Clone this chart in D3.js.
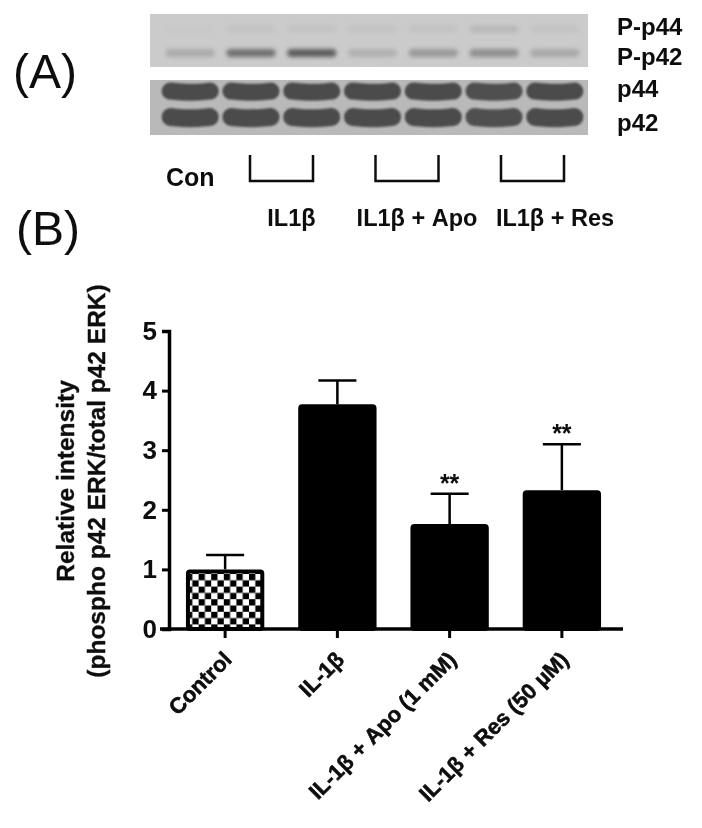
<!DOCTYPE html>
<html>
<head>
<meta charset="utf-8">
<script src="https://cdn.jsdelivr.net/npm/d3@7"></script>
<style>
  html, body { margin: 0; padding: 0; background: #fff; }
  svg { display: block; }
  text { font-family: "Liberation Sans", Arial, sans-serif; fill: #111; }
  .heavy { font-weight: bold; }
</style>
</head>
<body>
<div id="viz"></div>
<script>
// bar chart values
const categories = ['Control', 'IL-1β', 'IL-1β + Apo (1 mM)', 'IL-1β + Res (50 µM)'];
const means = [1.0, 3.77, 1.76, 2.33];
const errTop = [1.24, 4.17, 2.27, 3.1];
const stars = ['', '', '**', '**'];
const yTicks = [0, 1, 2, 3, 4, 5];

// blot lanes, panel A (band darkness 0-1, estimated)
const lanes = ['l1', 'l2', 'l3', 'l4', 'l5', 'l6', 'l7'];
const pp44 = [0.01, 0.05, 0.04, 0.05, 0.05, 0.12, 0.05];
const pp42 = [0.2, 0.6, 0.72, 0.16, 0.32, 0.38, 0.22];
const p44 = [1, 1, 1, 1, 1, 0.96, 1];
const p42 = [1, 1, 1, 1, 1, 0.96, 1];
const blotRowsTop = ['P-p44', 'P-p42'];
const blotRowsBottom = ['p44', 'p42'];
const groupLabels = ['IL1β', 'IL1β + Apo', 'IL1β + Res'];
const groupCenters = [291.5, 417, 555];

const svg = d3.select('#viz').append('svg')
  .attr('width', 702)
  .attr('height', 828)

const defs = svg.append('defs')

// filter region in page pixels, thin bands would get clipped otherwise
const blur = (id, sd) => defs.append('filter').attr('id', id)
  .attr('filterUnits', 'userSpaceOnUse')
  .attr('x', 0).attr('y', 0).attr('width', 702).attr('height', 828)
  .append('feGaussianBlur').attr('stdDeviation', sd)
blur('soft', 0.5)
blur('band', 1.0)
blur('faint', 2.0)

// mottled film background for the top blot
const mottle = defs.append('filter').attr('id', 'mottle')
mottle.append('feTurbulence').attr('type', 'fractalNoise').attr('baseFrequency', 0.035).attr('numOctaves', 2).attr('seed', 4)
mottle.append('feColorMatrix').attr('type', 'matrix')
  .attr('values', '0 0 0 0 0.6  0 0 0 0 0.6  0 0 0 0 0.6  0.7 0 0 0 -0.2')
mottle.append('feComposite').attr('in2', 'SourceGraphic').attr('operator', 'in')

const checks = defs.append('pattern').attr('id', 'checks')
  .attr('patternUnits', 'userSpaceOnUse')
  .attr('width', 12.6).attr('height', 12.6)
  .attr('x', 186).attr('y', 574)
checks.append('rect').attr('width', 12.6).attr('height', 12.6).attr('fill', '#fff')
checks.append('rect').attr('width', 6.3).attr('height', 6.3).attr('fill', '#000')
checks.append('rect').attr('x', 6.3).attr('y', 6.3).attr('width', 6.3).attr('height', 6.3).attr('fill', '#000')

// ---------- panel A
const panelA = svg.append('g').attr('filter', 'url(#soft)')

panelA.append('text').attr('x', 13).attr('y', 88).style('font-size', '48px').text('(A)')

const xLane = d3.scaleBand().domain(lanes).range([158, 587]).padding(0.06)

const yTop = d3.scalePoint().domain(blotRowsTop).range([29, 53])
const yBottom = d3.scalePoint().domain(blotRowsBottom).range([92, 118])
const yLabelTop = d3.scalePoint().domain(blotRowsTop).range([35, 65])
const yLabelBottom = d3.scalePoint().domain(blotRowsBottom).range([97, 131])

panelA.append('rect').attr('x', 150).attr('y', 14).attr('width', 438).attr('height', 53).attr('fill', '#cbcbcb')
panelA.append('rect').attr('x', 150).attr('y', 14).attr('width', 438).attr('height', 53).attr('fill', '#fff').attr('filter', 'url(#mottle)')
panelA.append('rect').attr('x', 150).attr('y', 80).attr('width', 438).attr('height', 55).attr('fill', '#b9b9b9')

const darkness = d3.scaleLinear().domain([0, 1]).range(['#c9c9c9', '#333'])

const drawFaint = (values, row, h, blurId) => {
  panelA.append('g').selectAll('rect').data(values).join('rect')
    .attr('x', (d, i) => xLane(lanes[i]) + 4)
    .attr('y', yTop(row) - h / 2)
    .attr('width', xLane.bandwidth() - 8)
    .attr('height', h)
    .attr('rx', h / 2)
    .attr('fill', d => darkness(d))
    .attr('filter', blurId)
}
drawFaint(pp44, 'P-p44', 7, 'url(#faint)')
drawFaint(pp42, 'P-p42', 8, 'url(#faint)')

// thick rounded strokes with a slight sag, like the film bands
const bandLine = d3.line().curve(d3.curveBasis)
const drawBands = (values, row, thick) => {
  panelA.append('g').selectAll('path').data(values).join('path')
    .attr('d', (d, i) => {
      const x0 = xLane(lanes[i]) + thick / 2
      const x1 = xLane(lanes[i]) + xLane.bandwidth() - thick / 2
      const y = yBottom(row)
      return bandLine([[x0, y - 1], [x0, y - 1], [(x0 + x1) / 2, y + 1], [x1, y - 1], [x1, y - 1]])
    })
    .attr('fill', 'none')
    .attr('stroke', d => d3.interpolateRgb('#b9b9b9', '#4c4c4c')(d))
    .attr('stroke-width', thick)
    .attr('stroke-linecap', 'round')
    .attr('filter', 'url(#band)')
}
drawBands(p44, 'p44', 17)
drawBands(p42, 'p42', 18)

const rowLabelX = 617
panelA.append('g').selectAll('text').data(blotRowsTop).join('text')
  .attr('class', 'heavy')
  .attr('x', rowLabelX)
  .attr('y', d => yLabelTop(d))
  .style('font-size', '24px')
  .text(d => d)
panelA.append('g').selectAll('text').data(blotRowsBottom).join('text')
  .attr('class', 'heavy')
  .attr('x', rowLabelX)
  .attr('y', d => yLabelBottom(d))
  .style('font-size', '24px')
  .text(d => d)

panelA.append('text').attr('class', 'heavy').attr('x', 166).attr('y', 186).style('font-size', '25px').text('Con')

const bracketX = d3.scalePoint().domain(groupLabels).range([250, 501])
panelA.append('g').selectAll('path').data(groupLabels).join('path')
  .attr('d', d => {
    const x0 = bracketX(d)
    return d3.line()([[x0, 155], [x0, 181], [x0 + 63, 181], [x0 + 63, 155]])
  })
  .attr('fill', 'none')
  .attr('stroke', '#111')
  .attr('stroke-width', 2.5)

panelA.append('g').selectAll('text').data(groupLabels).join('text')
  .attr('class', 'heavy')
  .attr('x', (d, i) => groupCenters[i])
  .attr('y', 226)
  .attr('text-anchor', 'middle')
  .style('font-size', '23.5px')
  .text(d => d)

// ---------- panel B
const chart = svg.append('g').attr('filter', 'url(#soft)')

chart.append('text').attr('x', 16).attr('y', 245).style('font-size', '48px').text('(B)')

const yScale = d3.scaleLinear().domain([0, 5]).range([629, 331])
const xScale = d3.scaleBand().domain(categories).range([169, 618]).paddingInner(0.32).paddingOuter(0.16)

const yAxis = chart.append('g')
  .attr('transform', 'translate(169,0)')
  .call(d3.axisLeft(yScale).tickValues(yTicks).tickSize(7).tickPadding(5).tickFormat(d3.format('d')))
yAxis.select('.domain').attr('stroke', '#000').attr('stroke-width', 3.5)
yAxis.selectAll('.tick line').attr('stroke', '#000').attr('stroke-width', 3)
yAxis.selectAll('.tick text')
  .style('font-size', '26px')
  .style('font-weight', 'bold')
  .style('font-family', '"Liberation Sans", Arial, sans-serif')
  .attr('fill', '#000')

const bw = xScale.bandwidth()

// error bars behind the bars
const errs = chart.append('g').selectAll('g').data(categories).join('g')
errs.append('line')
  .attr('x1', d => xScale(d) + bw / 2).attr('x2', d => xScale(d) + bw / 2)
  .attr('y1', (d, i) => yScale(means[i])).attr('y2', (d, i) => yScale(errTop[i]))
  .attr('stroke', '#000').attr('stroke-width', 2.5)
errs.append('line')
  .attr('x1', d => xScale(d) + bw / 2 - 19).attr('x2', d => xScale(d) + bw / 2 + 19)
  .attr('y1', (d, i) => yScale(errTop[i])).attr('y2', (d, i) => yScale(errTop[i]))
  .attr('stroke', '#000').attr('stroke-width', 2.5)

chart.append('g').selectAll('rect').data(categories).join('rect')
  .attr('x', d => xScale(d) + 1)
  .attr('y', (d, i) => yScale(means[i]) + 2)
  .attr('width', bw - 2)
  .attr('height', (d, i) => yScale(0) - yScale(means[i]) - 2)
  .attr('rx', 2)
  .attr('fill', (d, i) => i === 0 ? 'url(#checks)' : '#000')
  .attr('stroke', '#000')
  .attr('stroke-width', 4)

chart.append('g').selectAll('text').data(stars).join('text')
  .attr('class', 'heavy')
  .attr('x', (d, i) => xScale(categories[i]) + bw / 2)
  .attr('y', (d, i) => yScale(errTop[i]) - 2)
  .attr('text-anchor', 'middle')
  .style('font-size', '25px')
  .text(d => d)

const xAxis = chart.append('g')
  .attr('transform', 'translate(0,629)')
  .call(d3.axisBottom(xScale).tickSize(9).tickPadding(4))
xAxis.select('.domain').attr('stroke', '#000').attr('stroke-width', 3.5)
  .attr('d', 'M160,0H623')
xAxis.selectAll('.tick line').attr('stroke', '#000').attr('stroke-width', 3)
xAxis.selectAll('.tick text')
  .style('font-size', '22px')
  .style('font-weight', 'bold')
  .style('stroke', '#000')
  .style('stroke-width', '0.5px')
  .style('font-family', '"Liberation Sans", Arial, sans-serif')
  .attr('text-anchor', 'end')
  .attr('x', 0).attr('y', 0).attr('dy', 0)
  .attr('transform', 'translate(8,32) rotate(-45)')

// y axis title, two lines
const title = chart.append('text')
  .attr('class', 'heavy')
  .attr('transform', 'rotate(-90)')
  .attr('text-anchor', 'middle')
  .style('font-size', '24.5px')
  .style('stroke', '#111')
  .style('stroke-width', '0.3px')
title.append('tspan').attr('x', -481).attr('y', 74).text('Relative intensity')
title.append('tspan').attr('x', -481).attr('y', 105).text('(phospho p42 ERK/total p42 ERK)')
</script>
</body>
</html>
